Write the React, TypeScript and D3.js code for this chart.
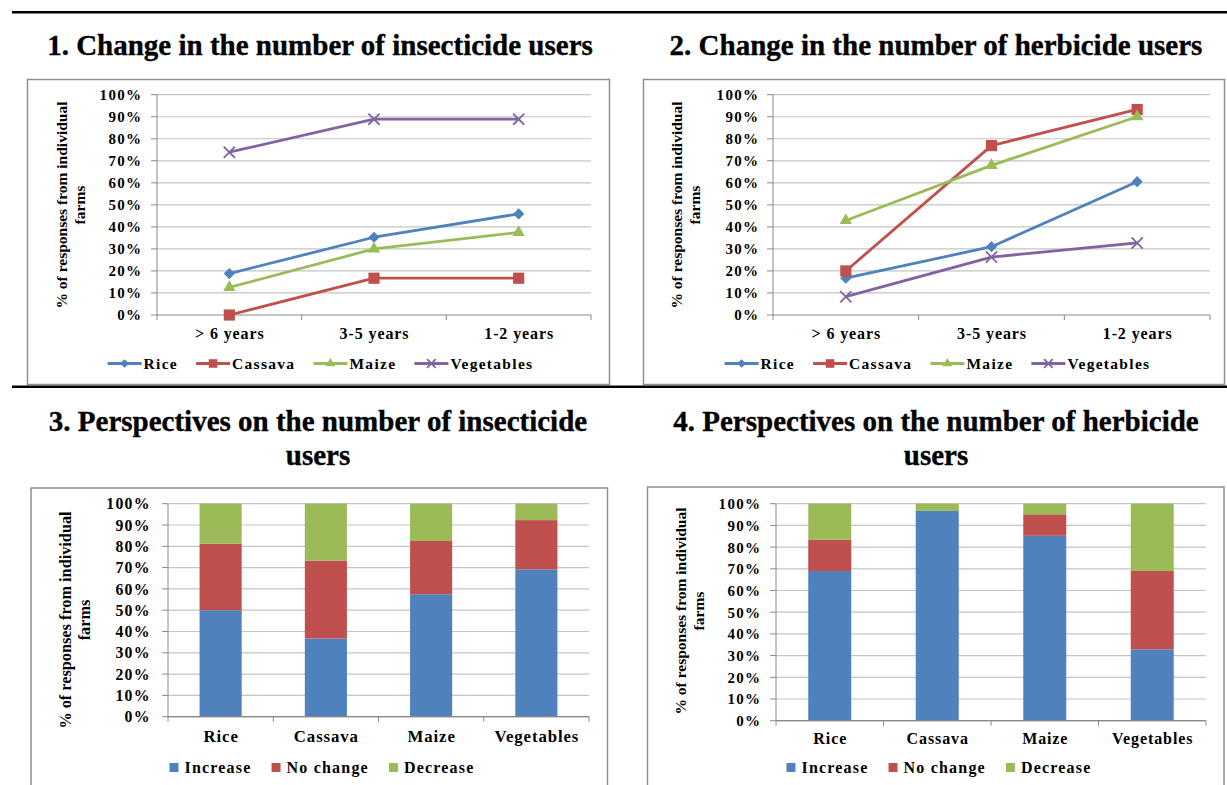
import React, { useEffect, useRef } from 'react';
import * as d3 from 'd3';

// ---------- data ----------
const periods = ['> 6 years', '3-5 years', '1-2 years'];
const crops = ['Rice', 'Cassava', 'Maize', 'Vegetables'];
const responses = ['Increase', 'No change', 'Decrease'];
const yTicks = [0, 10, 20, 30, 40, 50, 60, 70, 80, 90, 100];
const yTickLabels = ['0%', '10%', '20%', '30%', '40%', '50%', '60%', '70%', '80%', '90%', '100%'];

// 1. Change in the number of insecticide users (%)
const insRice = [18.8, 35.3, 45.9];
const insCassava = [0, 16.7, 16.7];
const insMaize = [12.5, 30.0, 37.5];
const insVegetables = [73.9, 88.9, 88.9];

// 2. Change in the number of herbicide users (%)
const herbRice = [16.7, 31.0, 60.5];
const herbCassava = [20.0, 76.9, 93.3];
const herbMaize = [42.9, 67.9, 90.0];
const herbVegetables = [8.3, 26.3, 32.7];

// 3. Perspectives on the number of insecticide users (%)
const insIncrease = [50.0, 36.7, 57.5, 69.2];
const insNoChange = [31.2, 36.6, 25.0, 23.1];
const insDecrease = [18.8, 26.7, 17.5, 7.7];

// 4. Perspectives on the number of herbicide users (%)
const herbIncrease = [69.0, 96.7, 85.2, 32.9];
const herbNoChange = [14.5, 0.0, 9.9, 36.1];
const herbDecrease = [16.5, 3.3, 4.9, 31.0];

// ---------- styles ----------
const BLUE = '#4F81BD';
const RED = '#C0504D';
const GREEN = '#9BBB59';
const PURPLE = '#8064A2';
const GRID = '#C4C4C4';
const AXIS = '#8A8A8A';
const BOX = '#8F8F8F';
const FONT = '"Liberation Serif", "Times New Roman", Times, serif';

type Marker = 'diamond' | 'square' | 'triangle' | 'x';

function markerPath(kind: Marker, r: number): string {
  if (kind === 'diamond') return `M0,${-r}L${r},0L0,${r}L${-r},0Z`;
  if (kind === 'square') return d3.symbol().type(d3.symbolSquare).size((2 * r) * (2 * r))() as string;
  if (kind === 'triangle') return d3.symbol().type(d3.symbolTriangle).size(r * r * 2.2)() as string;
  return `M${-r},${-r}L${r},${r}M${-r},${r}L${r},${-r}`;
}

function drawMarker(g: any, kind: Marker, cx: number, cy: number, r: number, color: string) {
  const p = g.append('path').attr('d', markerPath(kind, r)).attr('transform', `translate(${cx},${cy})`);
  if (kind === 'x') p.attr('fill', 'none').attr('stroke', color).attr('stroke-width', 1.8);
  else p.attr('fill', color).attr('stroke', 'none');
}

interface Layout {
  titleLines: string[];
  titleX: number;
  titleY: number;
  box: [number, number, number, number];
  x0: number; x1: number; y0: number; y1: number;
  tickLabelGap: number;
  yTitleX: number;
  yTitleY: number;
  xLabelY: number;
  legendY: number;
  legendCx: number;
  fontScale: number;
}

function drawFrame(svg: any, L: Layout) {
  const [bx0, by0, bx1, by1] = L.box;
  svg.append('rect').attr('x', bx0).attr('y', by0).attr('width', bx1 - bx0).attr('height', by1 - by0)
    .attr('fill', '#fff').attr('stroke', BOX).attr('stroke-width', 1.5);
  L.titleLines.forEach((t, i) => {
    svg.append('text').attr('x', L.titleX).attr('y', L.titleY + i * 34)
      .attr('text-anchor', 'middle').attr('font-family', FONT).attr('font-weight', 'bold')
      .attr('font-size', 29).attr('fill', '#000').attr('stroke', '#000').attr('stroke-width', 0.35).text(t);
  });
  const y = d3.scaleLinear().domain([0, 100]).range([L.y0, L.y1]);
  const g = svg.append('g');
  yTicks.forEach((t, i) => {
    if (t > 0) {
      g.append('line').attr('x1', L.x0).attr('x2', L.x1).attr('y1', y(t)).attr('y2', y(t))
        .attr('stroke', GRID).attr('stroke-width', 1.2);
    }
    g.append('line').attr('x1', L.x0 - 6).attr('x2', L.x0).attr('y1', y(t)).attr('y2', y(t))
      .attr('stroke', AXIS).attr('stroke-width', 1);
    g.append('text').attr('x', L.x0 - L.tickLabelGap + 1.3).attr('y', y(t)).attr('dy', '0.36em')
      .attr('text-anchor', 'end').attr('font-family', FONT).attr('font-weight', 'bold')
      .attr('font-size', 15 * L.fontScale).attr('letter-spacing', 1.3).attr('fill', '#000').text(yTickLabels[i]);
  });
  g.append('line').attr('x1', L.x0).attr('x2', L.x0).attr('y1', L.y0).attr('y2', L.y1)
    .attr('stroke', AXIS).attr('stroke-width', 1);
  g.append('line').attr('x1', L.x0).attr('x2', L.x1).attr('y1', L.y0).attr('y2', L.y0)
    .attr('stroke', AXIS).attr('stroke-width', 1.2);
  // y title
  const yt = svg.append('text').attr('transform', `translate(${L.yTitleX},${L.yTitleY}) rotate(-90)`)
    .attr('text-anchor', 'middle').attr('font-family', FONT).attr('font-weight', 'bold')
    .attr('font-size', 15.5 * L.fontScale).attr('fill', '#000');
  yt.append('tspan').attr('x', 0).attr('dy', '0.35em').text('% of responses from individual');
  yt.append('tspan').attr('x', 0).attr('dy', 18 * L.fontScale).text('farms');
  return y;
}

function drawXAxis(svg: any, L: Layout, x: d3.ScaleBand<string>, cats: string[]) {
  const edges = cats.map((c) => x(c) as number).concat([L.x1]);
  edges.forEach((e) => {
    svg.append('line').attr('x1', e).attr('x2', e).attr('y1', L.y0).attr('y2', L.y0 + 5)
      .attr('stroke', AXIS).attr('stroke-width', 1);
  });
  cats.forEach((c) => {
    svg.append('text').attr('x', (x(c) as number) + x.bandwidth() / 2 + 0.5).attr('y', L.xLabelY)
      .attr('text-anchor', 'middle').attr('font-family', FONT).attr('font-weight', 'bold')
      .attr('font-size', 16 * L.fontScale).attr('letter-spacing', 0.9).attr('fill', '#000').text(c);
  });
}

interface Series { name: string; values: number[]; color: string; marker: Marker; }

function drawLinePanel(svg: any, L: Layout, series: Series[]) {
  const y = drawFrame(svg, L);
  const x = d3.scaleBand<string>().domain(periods).range([L.x0, L.x1]).padding(0);
  drawXAxis(svg, L, x, periods);
  const cx = (d: string) => (x(d) as number) + x.bandwidth() / 2;
  const line = d3.line<number>().x((_, i) => cx(periods[i])).y((v) => y(v));
  const g = svg.append('g');
  series.forEach((s) => {
    g.append('path').attr('d', line(s.values)).attr('fill', 'none').attr('stroke', s.color)
      .attr('stroke-width', 2.8).attr('stroke-linejoin', 'round');
  });
  series.forEach((s) => {
    s.values.forEach((v, i) => drawMarker(g, s.marker, cx(periods[i]), y(v), s.marker === 'triangle' ? 5.5 : 5.6, s.color));
  });
  // legend
  const lg = svg.append('g');
  const items: { w: number; node: any; s: Series }[] = [];
  series.forEach((s) => {
    const t = lg.append('text').attr('y', L.legendY).attr('font-family', FONT).attr('font-weight', 'bold')
      .attr('font-size', 15.5).attr('letter-spacing', 1.3).attr('fill', '#000').text(s.name);
    const tw = (t.node() as SVGTextElement).getComputedTextLength();
    items.push({ w: 36 + tw, node: t, s });
  });
  const gap = 18;
  const total = d3.sum(items, (d) => d.w) + gap * (items.length - 1);
  let cur = L.legendCx - total / 2;
  items.forEach((it) => {
    const ly = L.legendY - 5;
    lg.append('line').attr('x1', cur).attr('x2', cur + 34).attr('y1', ly).attr('y2', ly)
      .attr('stroke', it.s.color).attr('stroke-width', 2.8);
    drawMarker(lg, it.s.marker, cur + 17, ly, 4.3, it.s.color);
    it.node.attr('x', cur + 36);
    cur += it.w + gap;
  });
}

function drawBarPanel(svg: any, L: Layout, inc: number[], noc: number[], dec: number[]) {
  const y = drawFrame(svg, L);
  const x = d3.scaleBand<string>().domain(crops).range([L.x0, L.x1]).padding(0);
  const rows = crops.map((c, i) => ({ crop: c, Increase: inc[i], 'No change': noc[i], Decrease: dec[i] }));
  const stack = d3.stack<any>().keys(responses)(rows);
  const colors = [BLUE, RED, GREEN];
  const bw = x.bandwidth() * 0.4;
  const g = svg.append('g');
  stack.forEach((layer, li) => {
    layer.forEach((seg: any) => {
      const c = seg.data.crop;
      const h = y(seg[0]) - y(seg[1]);
      if (h <= 0) return;
      g.append('rect').attr('x', (x(c) as number) + (x.bandwidth() - bw) / 2).attr('y', y(seg[1]))
        .attr('width', bw).attr('height', h).attr('fill', colors[li]);
    });
  });
  g.append('line').attr('x1', L.x0).attr('x2', L.x1).attr('y1', L.y0).attr('y2', L.y0)
    .attr('stroke', AXIS).attr('stroke-width', 1.2);
  drawXAxis(svg, L, x, crops);
  // legend
  const lg = svg.append('g');
  const items: { w: number; node: any; color: string }[] = [];
  responses.forEach((r, i) => {
    const t = lg.append('text').attr('y', L.legendY).attr('font-family', FONT).attr('font-weight', 'bold')
      .attr('font-size', 16).attr('letter-spacing', 1.2).attr('fill', '#000').text(r);
    const tw = (t.node() as SVGTextElement).getComputedTextLength();
    items.push({ w: 15 + tw, node: t, color: colors[i] });
  });
  const gap = 20;
  const total = d3.sum(items, (d) => d.w) + gap * (items.length - 1);
  let cur = L.legendCx - total / 2;
  items.forEach((it) => {
    lg.append('rect').attr('x', cur).attr('y', L.legendY - 10).attr('width', 9).attr('height', 9).attr('fill', it.color);
    it.node.attr('x', cur + 15);
    cur += it.w + gap;
  });
}

export default function App() {
  const ref = useRef<SVGSVGElement>(null);
  useEffect(() => {
    const svg = d3.select(ref.current);
    svg.selectAll('*').remove();
    svg.append('rect').attr('width', 1227).attr('height', 785).attr('fill', '#fff');

    const p1: Layout = {
      titleLines: ['1. Change in the number of insecticide users'], titleX: 320, titleY: 55,
      box: [27.5, 79.5, 609.5, 384.5], x0: 157, x1: 591, y0: 315, y1: 94.7,
      tickLabelGap: 16, yTitleX: 62, yTitleY: 205, xLabelY: 338.5, legendY: 368.5, legendCx: 320.5, fontScale: 1,
    };
    const p2: Layout = {
      titleLines: ['2. Change in the number of herbicide users'], titleX: 936, titleY: 55,
      box: [643.5, 79.5, 1224.5, 384.5], x0: 773, x1: 1210, y0: 315, y1: 94.7,
      tickLabelGap: 15, yTitleX: 677, yTitleY: 205, xLabelY: 338.5, legendY: 368.5, legendCx: 937.5, fontScale: 1,
    };
    const p3: Layout = {
      titleLines: ['3. Perspectives on the number of insecticide', 'users'], titleX: 318, titleY: 431,
      box: [31, 488, 607.5, 800], x0: 168, x1: 589, y0: 716.7, y1: 503.7,
      tickLabelGap: 18.5, yTitleX: 65, yTitleY: 620, xLabelY: 742, legendY: 773, legendCx: 322, fontScale: 1.05,
    };
    const p4: Layout = {
      titleLines: ['4. Perspectives on the number of herbicide', 'users'], titleX: 936, titleY: 431,
      box: [647.5, 487, 1224, 800], x0: 776, x1: 1206, y0: 720.7, y1: 503.7,
      tickLabelGap: 16, yTitleX: 681, yTitleY: 611, xLabelY: 743.5, legendY: 773, legendCx: 939, fontScale: 1,
    };

    drawLinePanel(svg, p1, [
      { name: 'Rice', values: insRice, color: BLUE, marker: 'diamond' },
      { name: 'Cassava', values: insCassava, color: RED, marker: 'square' },
      { name: 'Maize', values: insMaize, color: GREEN, marker: 'triangle' },
      { name: 'Vegetables', values: insVegetables, color: PURPLE, marker: 'x' },
    ]);
    drawLinePanel(svg, p2, [
      { name: 'Rice', values: herbRice, color: BLUE, marker: 'diamond' },
      { name: 'Cassava', values: herbCassava, color: RED, marker: 'square' },
      { name: 'Maize', values: herbMaize, color: GREEN, marker: 'triangle' },
      { name: 'Vegetables', values: herbVegetables, color: PURPLE, marker: 'x' },
    ]);
    drawBarPanel(svg, p3, insIncrease, insNoChange, insDecrease);
    drawBarPanel(svg, p4, herbIncrease, herbNoChange, herbDecrease);

    // separator rules
    svg.append('line').attr('x1', 12).attr('x2', 1227).attr('y1', 12.3).attr('y2', 12.3)
      .attr('stroke', '#000').attr('stroke-width', 2.4);
    svg.append('line').attr('x1', 12).attr('x2', 1227).attr('y1', 386.7).attr('y2', 386.7)
      .attr('stroke', '#000').attr('stroke-width', 2.4);
  }, []);
  return (
    <svg ref={ref} width={1227} height={785}
      style={{ position: 'absolute', left: 0, top: 0, display: 'block', background: '#fff' }} />
  );
}
